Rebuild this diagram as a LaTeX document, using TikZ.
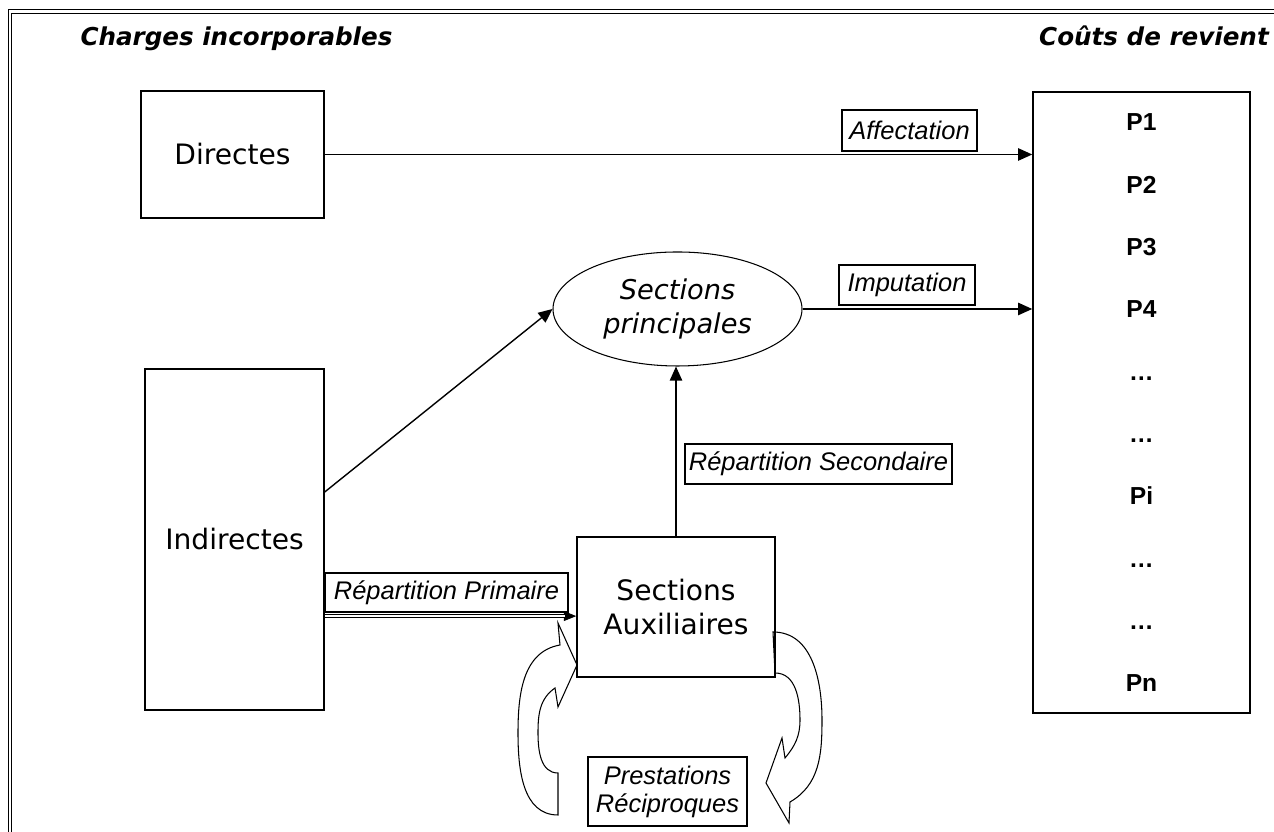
\documentclass[tikz,border=0pt]{standalone}
\usepackage{fontspec}
\usetikzlibrary{shapes.geometric,arrows.meta}
\newfontfamily\verdfont{DejaVu Sans}
\newfontfamily\arialfont{Liberation Sans}

\begin{document}
\begin{tikzpicture}[
  box/.style={draw, line width=0.85pt, inner sep=0pt, align=center, font=\verdfont\fontsize{16}{19}\selectfont},
  lbl/.style={draw, line width=0.7pt, inner sep=0pt, align=center, font=\arialfont\itshape\fontsize{14.5}{16}\selectfont},
  titre/.style={anchor=base, font=\verdfont\bfseries\itshape\fontsize{14}{16}\selectfont},
  pnum/.style={anchor=base, font=\arialfont\bfseries\fontsize{14}{16}\selectfont},
  fleche/.style={line width=0.8pt, -{Triangle[length=8pt,width=7pt]}},
  courbe/.style={draw, fill=white, line width=0.6pt}
]
\useasboundingbox (0,0) rectangle (25.48,16.64);
\draw[line width=0.6pt, double, double distance=1.3pt] (26,16.41) -- (0.20,16.41) -- (0.20,-1);

\draw (4.73,15.72) node[titre] (chg) {Charges incorporables};
\draw (23.08,15.72) node[titre] (cdr) {Coûts de revient};


\draw[courbe] (11.16,0.34) to[out=180,in=-90] (10.36,1.98) to[out=90,in=190] (11.20,3.74)
  -- (11.16,4.18) -- (11.54,3.34) -- (11.16,2.50) -- (11.10,2.88)
  to[out=215,in=90] (10.76,1.98) to[out=-90,in=180] (11.16,1.18) -- cycle;
\draw[courbe] (15.46,4.00) to[out=0,in=90] (16.44,2.24) to[out=-90,in=30] (15.80,0.60)
  -- (15.78,0.18) -- (15.32,0.98) -- (15.64,1.88) -- (15.70,1.48)
  to[out=50,in=-90] (16.00,2.24) to[out=90,in=0] (15.50,3.18) -- cycle;


\draw (22.83,8.59) node[box, minimum width=4.34cm, minimum height=12.42cm] (cout) {};
\foreach \lbl [count=\k] in {P1,P2,P3,P4,…,…,Pi,…,…,Pn}
  \draw (22.83,{14.02-1.246*(\k-1)}) node[pnum] (p\k) {\lbl};

\draw (4.65,13.55) node[box, minimum width=3.66cm, minimum height=2.54cm] (dir) {Directes};
\draw (4.69,5.85) node[box, minimum width=3.58cm, minimum height=6.82cm] (ind) {Indirectes};
\draw (13.55,10.46) node[box, ellipse, line width=0.6pt, minimum width=4.98cm, minimum height=2.28cm,
  font=\verdfont\itshape\fontsize{15.5}{19}\selectfont] (sp) {Sections\\principales};
\draw (13.52,4.50) node[box, minimum width=3.96cm, minimum height=2.80cm] (aux) {Sections\\Auxiliaires};


\draw (18.19,14.03) node[lbl, minimum width=2.70cm, minimum height=0.82cm] (aff) {Affectation};
\draw (18.14,10.94) node[lbl, minimum width=2.72cm, minimum height=0.80cm] (imp) {Imputation};
\draw (16.37,7.36) node[lbl, minimum width=5.34cm, minimum height=0.80cm] (rsec) {Répartition Secondaire};
\draw (8.93,4.79) node[lbl, minimum width=4.86cm, minimum height=0.78cm] (rprim) {Répartition Primaire};
\draw (13.35,0.81) node[lbl, minimum width=3.18cm, minimum height=1.38cm] (prest) {Prestations\\Réciproques};


\draw[fleche] (dir.east) -- (dir.east -| cout.west);
\draw[fleche] (sp.east) -- (sp.east -| cout.west);
\draw[fleche] ([yshift=0.95cm]ind.east) -- (sp.west);
\draw[fleche] (aux.north) -- (aux.north |- sp.south);

\path (rprim.south -| ind.east) ++(0,-0.07) coordinate (pa);
\path (rprim.south -| aux.west) ++(0,-0.07) coordinate (pb);
\draw[line width=0.5pt, -{Triangle[length=7pt,width=5.5pt]}] (pa) -- (pb);
\draw[line width=0.5pt, double, double distance=1.2pt, shorten >=6.5pt] (pa) -- (pb);

\end{tikzpicture}
\end{document}
